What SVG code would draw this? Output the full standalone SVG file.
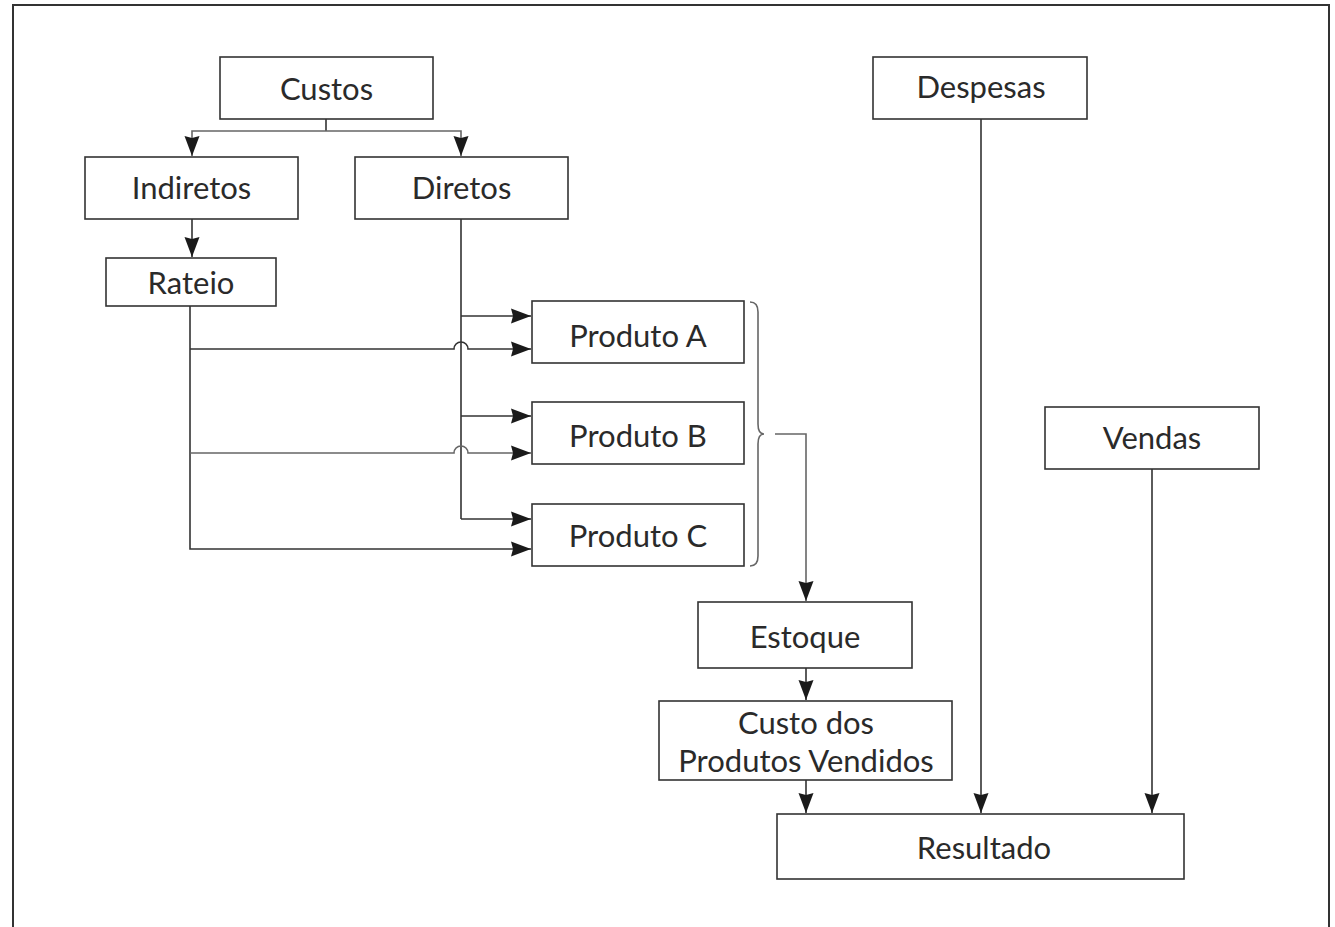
<svg xmlns="http://www.w3.org/2000/svg" width="1335" height="927" viewBox="0 0 1335 927">
<style>
.box{fill:#fff;stroke:#333;stroke-width:1.6}
.lbl{font-family:Lato,"Liberation Sans",sans-serif;font-size:31px;fill:#2a2a2a;text-anchor:middle;dominant-baseline:central}
.c{fill:none;stroke:#333;stroke-width:1.6}
.cl{fill:none;stroke:#666;stroke-width:1.6}
</style>
<defs>
<marker id="ah" markerUnits="userSpaceOnUse" markerWidth="22" markerHeight="18" refX="20" refY="8" orient="auto">
<path d="M0,0.5 L20,8 L0,15.5 L2,8 Z" fill="#1a1a1a"/>
</marker>
</defs>
<rect x="0" y="0" width="1335" height="927" fill="#fff"/>
<path d="M13,927 V5 H1329 V927" fill="none" stroke="#333" stroke-width="2"/>
<g id="connectors">
<path class="c" d="M326,119 V131"/>
<path class="cl" d="M326,131 H192 V156" marker-end="url(#ah)"/>
<path class="cl" d="M326,131 H461 V156" marker-end="url(#ah)"/>
<path class="c" d="M192,219 V257" marker-end="url(#ah)"/>
<path class="c" d="M461,219 V519"/>
<path class="c" d="M461,316 H531" marker-end="url(#ah)"/>
<path class="c" d="M461,416 H531" marker-end="url(#ah)"/>
<path class="c" d="M461,519 H531" marker-end="url(#ah)"/>
<path class="c" d="M190,306 V549 H531" marker-end="url(#ah)"/>
<path class="c" d="M190,349 H454 A7,7 0 0 1 468,349 H531" marker-end="url(#ah)"/>
<path class="cl" d="M190,453 H454 A7,7 0 0 1 468,453 H531" marker-end="url(#ah)"/>
<path class="cl" d="M750,302 Q758,302 758,312 V424 Q758,434 764,434 Q758,434 758,444 V556 Q758,566 750,566"/>
<path class="cl" d="M775,434 H806 V601" marker-end="url(#ah)"/>
<path class="c" d="M806,668 V700" marker-end="url(#ah)"/>
<path class="c" d="M806,780 V813" marker-end="url(#ah)"/>
<path class="c" d="M981,119 V813" marker-end="url(#ah)"/>
<path class="c" d="M1152,469 V813" marker-end="url(#ah)"/>
</g>
<g id="custos"><rect class="box" x="220" y="57" width="213" height="62"/><text class="lbl" x="326.5" y="88">Custos</text></g>
<g id="indiretos"><rect class="box" x="85" y="157" width="213" height="62"/><text class="lbl" x="191.5" y="187">Indiretos</text></g>
<g id="diretos"><rect class="box" x="355" y="157" width="213" height="62"/><text class="lbl" x="461.5" y="187">Diretos</text></g>
<g id="rateio"><rect class="box" x="106" y="258" width="170" height="48"/><text class="lbl" x="191" y="282">Rateio</text></g>
<g id="produtoA"><rect class="box" x="532" y="301" width="212" height="62"/><text class="lbl" x="638" y="335">Produto A</text></g>
<g id="produtoB"><rect class="box" x="532" y="402" width="212" height="62"/><text class="lbl" x="638" y="435">Produto B</text></g>
<g id="produtoC"><rect class="box" x="532" y="504" width="212" height="62"/><text class="lbl" x="638" y="535">Produto C</text></g>
<g id="estoque"><rect class="box" x="698" y="602" width="214" height="66"/><text class="lbl" x="805" y="636">Estoque</text></g>
<g id="cpv"><rect class="box" x="659" y="701" width="293" height="79"/><text class="lbl" x="806" y="722">Custo dos</text><text class="lbl" x="806" y="760">Produtos Vendidos</text></g>
<g id="resultado"><rect class="box" x="777" y="814" width="407" height="65"/><text class="lbl" x="984" y="847">Resultado</text></g>
<g id="despesas"><rect class="box" x="873" y="57" width="214" height="62"/><text class="lbl" x="981" y="86">Despesas</text></g>
<g id="vendas"><rect class="box" x="1045" y="407" width="214" height="62"/><text class="lbl" x="1152" y="437">Vendas</text></g>
</svg>
